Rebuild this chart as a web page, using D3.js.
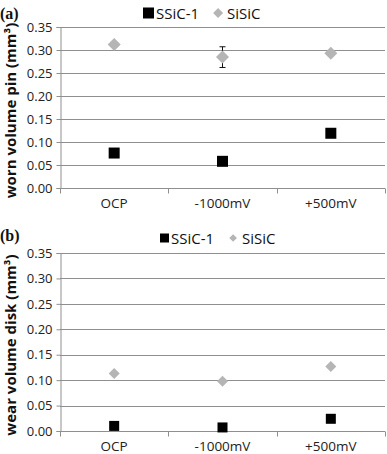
<!DOCTYPE html>
<html>
<head>
<meta charset="utf-8">
<script src="https://cdn.jsdelivr.net/npm/d3@7"></script>
<style>
  body { margin: 0; background: #fff; }
  svg { display: block; }
</style>
</head>
<body>
<div id="chart"></div>
<script>
// data
const categories = ['OCP', '-1000mV', '+500mV']
const yTicks = [0, 0.05, 0.10, 0.15, 0.20, 0.25, 0.30, 0.35]
const seriesNames = ['SSiC-1', 'SiSiC']

// panel (a): worn volume pin
const pinSSiC = [0.076, 0.058, 0.119]
const pinSiSiC = [0.312, 0.285, 0.293]
const pinSiSiCErr = [null, [0.262, 0.307], null]

// panel (b): wear volume disk
const diskSSiC = [0.010, 0.007, 0.024]
const diskSiSiC = [0.113, 0.098, 0.127]

const width = 387, height = 454
const font = '"Open Sans", "Noto Sans", sans-serif'
const gridColor = '#8f8f8f'
const grey = '#b5b5b5'

const svg = d3.select('#chart').append('svg')
    .attr('width', width)
    .attr('height', height)

const panels = [
    { tag: '(a)', label: 'worn volume pin (mm³)', top: 27, bottom: 188, legendY: 13, legendX: 143,
      sq: 11, dia: 13, lsq: 11, ldia: 50, series: [pinSSiC, pinSiSiC], err: pinSiSiCErr },
    { tag: '(b)', label: 'wear volume disk (mm³)', top: 253, bottom: 431, legendY: 238, legendX: 160,
      sq: 10, dia: 11, lsq: 9, ldia: 30, series: [diskSSiC, diskSiSiC], err: null }
]

const left = 60, right = 385

panels.forEach(function (p, pi) {
    const g = svg.append('g')

    const x = d3.scaleBand().domain(categories).range([left, right])
    const y = d3.scaleLinear().domain([0, 0.35]).range([p.bottom, p.top])

    // gridlines
    g.selectAll('.grid').data(yTicks.slice(1)).enter().append('line')
        .attr('x1', left).attr('x2', right)
        .attr('y1', d => Math.round(y(d)) + 0.5).attr('y2', d => Math.round(y(d)) + 0.5)
        .attr('stroke', gridColor).attr('stroke-width', 1)

    // y axis
    const yAxis = d3.axisLeft(y).tickValues(yTicks).tickSize(4).tickPadding(4)
        .tickFormat(d3.format('.2f'))
    const ya = g.append('g').attr('transform', 'translate(' + (left + 0.5) + ',0)').call(yAxis)
    ya.selectAll('path, line').attr('stroke', gridColor)
    ya.selectAll('text').attr('font-family', font).attr('font-size', 13).attr('fill', '#222')

    // x axis line and boundary ticks
    const base = Math.round(y(0)) + 0.5
    g.append('line').attr('x1', left).attr('x2', right).attr('y1', base).attr('y2', base)
        .attr('stroke', gridColor)
    const bounds = categories.map(c => x(c)).concat([x(categories[categories.length - 1]) + x.bandwidth()])
    g.selectAll('.xt').data(bounds).enter().append('line')
        .attr('x1', d => Math.round(d) + 0.5).attr('x2', d => Math.round(d) + 0.5)
        .attr('y1', base).attr('y2', base + 5)
        .attr('stroke', gridColor)
    g.selectAll('.xl').data(categories).enter().append('text')
        .attr('x', d => x(d) + x.bandwidth() / 2)
        .attr('y', base + 19)
        .attr('text-anchor', 'middle')
        .attr('font-family', font).attr('font-size', 13.5).attr('fill', '#222')
        .text(d => d)

    // y label
    g.append('text')
        .attr('transform', 'translate(16,' + ((p.top + p.bottom) / 2 + 3) + ') rotate(-90)')
        .attr('text-anchor', 'middle')
        .attr('font-family', font).attr('font-weight', 'bold').attr('font-size', 15)
        .attr('fill', '#111')
        .text(p.label)

    // panel tag
    g.append('text')
        .attr('x', 0).attr('y', p.legendY + (pi == 0 ? 6 : 3))
        .attr('font-family', '"Liberation Serif", serif').attr('font-weight', 'bold')
        .attr('font-size', 16).attr('fill', '#111')
        .text(p.tag)

    // error bars
    if (p.err) {
        p.err.forEach(function (e, i) {
            if (!e) return
            const cx = x(categories[i]) + x.bandwidth() / 2
            g.append('line').attr('x1', cx).attr('x2', cx).attr('y1', y(e[0])).attr('y2', y(e[1]))
                .attr('stroke', '#111')
            ;[e[0], e[1]].forEach(v => {
                g.append('line').attr('x1', cx - 3).attr('x2', cx + 3).attr('y1', y(v)).attr('y2', y(v))
                    .attr('stroke', '#111')
            })
        })
    }

    // SiSiC diamonds
    const dia = d3.symbol().type(d3.symbolSquare).size(p.dia * p.dia / 2)
    g.selectAll('.dia').data(p.series[1]).enter().append('path')
        .attr('d', dia)
        .attr('transform', (d, i) => 'translate(' + (x(categories[i]) + x.bandwidth() / 2) + ',' + y(d) + ') rotate(45)')
        .attr('fill', grey)

    // SSiC-1 squares
    g.selectAll('.sq').data(p.series[0]).enter().append('rect')
        .attr('x', (d, i) => x(categories[i]) + x.bandwidth() / 2 - p.sq / 2)
        .attr('y', d => y(d) - p.sq / 2)
        .attr('width', p.sq).attr('height', p.sq)
        .attr('fill', '#000')

    // legend
    const lx = p.legendX, ly = p.legendY
    g.append('rect').attr('x', lx).attr('y', ly - p.lsq / 2).attr('width', p.lsq).attr('height', p.lsq).attr('fill', '#000')
    const t1 = g.append('text').attr('x', lx + p.lsq + 2).attr('y', ly + 5.5)
        .attr('font-family', font).attr('font-size', 15).attr('fill', '#111')
        .text(seriesNames[0])
    const w1 = t1.node().getComputedTextLength()
    const dx = lx + p.lsq + 2 + w1 + 19
    g.append('path').attr('d', d3.symbol().type(d3.symbolSquare).size(p.ldia))
        .attr('transform', 'translate(' + dx + ',' + ly + ') rotate(45)')
        .attr('fill', grey)
    g.append('text').attr('x', dx + 9).attr('y', ly + 5.5)
        .attr('font-family', font).attr('font-size', 15).attr('fill', '#111')
        .text(seriesNames[1])
})
</script>
</body>
</html>
